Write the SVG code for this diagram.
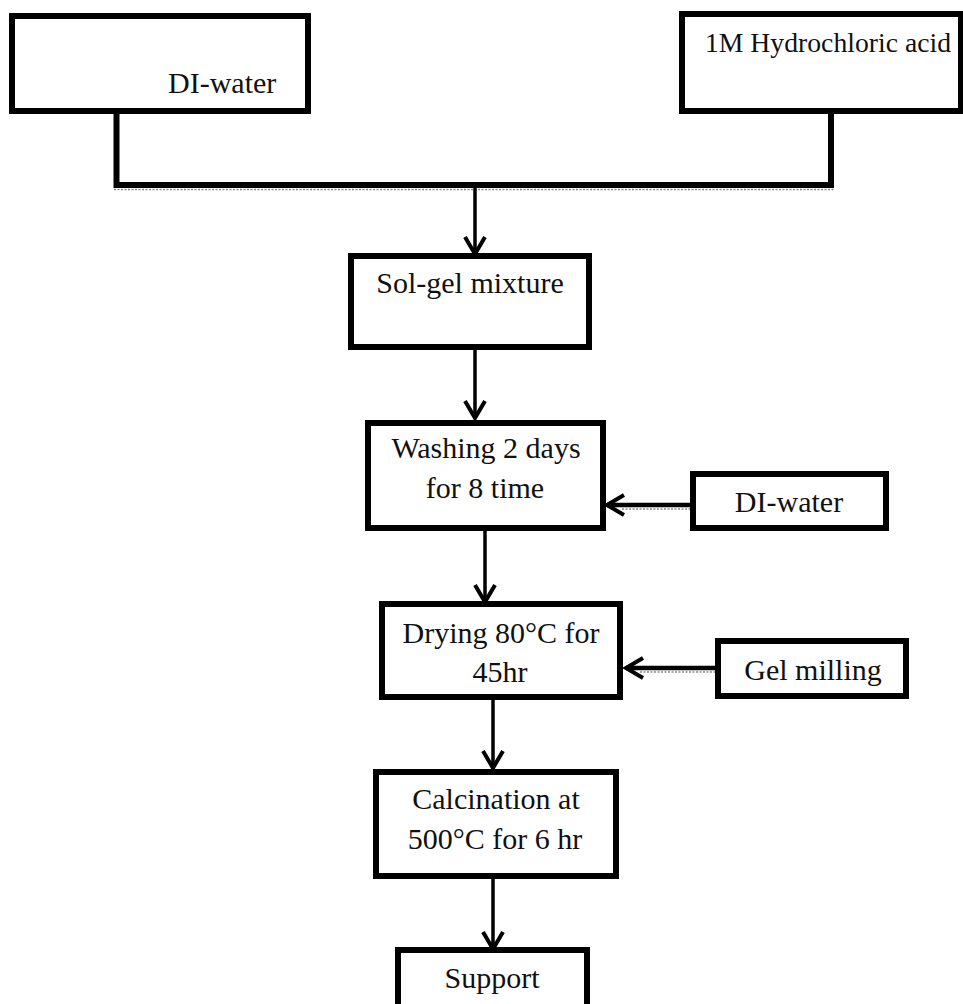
<svg xmlns="http://www.w3.org/2000/svg" width="963" height="1004" viewBox="0 0 963 1004">
  <style>
    .box { fill: #ffffff; stroke: #000000; stroke-width: 6; }
    .lbl { font-family: "Liberation Serif", "Times New Roman", serif; font-size: 30px; fill: #111111; }
    .mid { text-anchor: middle; }
    .conn { fill: none; stroke: #000000; stroke-width: 3.5; }
    .bus { fill: none; stroke: #000000; stroke-width: 6; stroke-linejoin: miter; }
    .shadow { fill: none; stroke: #8a8a8a; stroke-width: 1.5; stroke-dasharray: 2 1.5; }
  </style>
  <defs>
    <marker id="arr" viewBox="0 0 24 24" markerWidth="24" markerHeight="24" refX="20" refY="12" orient="auto" markerUnits="userSpaceOnUse">
      <path d="M3,2 L20,12 L3,22" fill="none" stroke="#000000" stroke-width="4"/>
    </marker>
  </defs>
  <rect width="963" height="1004" fill="#ffffff"/>

  <g id="connectors">
    <path class="bus" d="M116.5,111 V185 H831 V111"/>
    <line class="shadow" x1="114" y1="189.5" x2="834" y2="189.5"/>
    <line class="conn" x1="475" y1="188" x2="475" y2="254" marker-end="url(#arr)"/>
    <line class="conn" x1="475" y1="350" x2="475" y2="418" marker-end="url(#arr)"/>
    <line class="conn" x1="690" y1="505" x2="607" y2="505" marker-end="url(#arr)" style="stroke-width:4.5"/>
    <line class="shadow" x1="622" y1="509" x2="690" y2="509"/>
    <line class="conn" x1="485" y1="531" x2="485" y2="602" marker-end="url(#arr)"/>
    <line class="conn" x1="715" y1="668" x2="626" y2="668" marker-end="url(#arr)" style="stroke-width:4.5"/>
    <line class="shadow" x1="640" y1="672" x2="715" y2="672"/>
    <line class="conn" x1="493" y1="700" x2="493" y2="768" marker-end="url(#arr)"/>
    <line class="conn" x1="493" y1="879" x2="493" y2="949" marker-end="url(#arr)"/>
  </g>

  <g id="node-diwater-top">
    <rect class="box" x="12" y="16" width="296" height="95"/>
    <text class="lbl" x="168" y="93">DI-water</text>
  </g>

  <g id="node-hcl">
    <rect class="box" x="682" y="14" width="279" height="97"/>
    <text class="lbl" x="705" y="52" style="font-size:28px" textLength="246" lengthAdjust="spacingAndGlyphs">1M Hydrochloric acid</text>
  </g>

  <g id="node-solgel">
    <rect class="box" x="351" y="256" width="238" height="91"/>
    <text class="lbl mid" x="470" y="293">Sol-gel mixture</text>
  </g>

  <g id="node-washing">
    <rect class="box" x="368" y="423" width="235" height="105"/>
    <text class="lbl mid" x="486" y="458">Washing 2 days</text>
    <text class="lbl mid" x="485" y="498">for 8 time</text>
  </g>

  <g id="node-diwater-side">
    <rect class="box" x="693" y="474" width="193" height="54"/>
    <text class="lbl mid" x="789" y="512">DI-water</text>
  </g>

  <g id="node-drying">
    <rect class="box" x="382" y="604" width="238" height="93"/>
    <text class="lbl mid" x="501" y="643">Drying 80°C for</text>
    <text class="lbl mid" x="500" y="682">45hr</text>
  </g>

  <g id="node-gelmilling">
    <rect class="box" x="718" y="641" width="188" height="55"/>
    <text class="lbl mid" x="813" y="680">Gel milling</text>
  </g>

  <g id="node-calcination">
    <rect class="box" x="376" y="772" width="240" height="104"/>
    <text class="lbl mid" x="496" y="809">Calcination at</text>
    <text class="lbl mid" x="495" y="849">500°C for 6 hr</text>
  </g>

  <g id="node-support">
    <rect class="box" x="398" y="950" width="189" height="70"/>
    <text class="lbl mid" x="492" y="988">Support</text>
  </g>
</svg>
